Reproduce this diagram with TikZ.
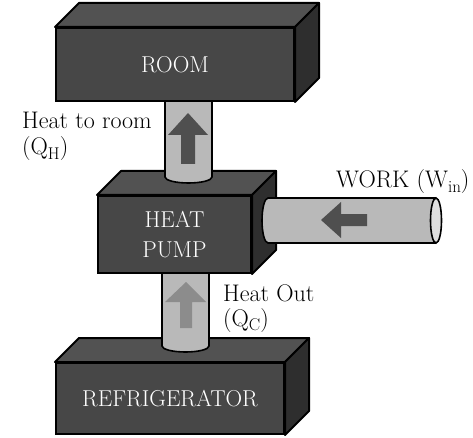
\documentclass[tikz,border=0pt]{standalone}
\usepackage{fontspec}
\usetikzlibrary{calc}
\definecolor{frontc}{HTML}{474747}
\definecolor{topc}{HTML}{525252}
\definecolor{sidec}{HTML}{2E2E2E}
\definecolor{pipec}{HTML}{B9B9B9}
\definecolor{pipeend}{HTML}{DEDEDE}
\definecolor{arrowdark}{HTML}{4F4F4F}
\definecolor{arrowlight}{HTML}{8C8C8C}
\newcommand\lowsub[1]{\raisebox{-0.45ex}{\fontsize{17}{17}\selectfont #1}}
\newcommand\depthbox[1]{%
  \draw[topface] (#1.north west) -- ++(24,-24) -- ($(#1.north east)+(24,-24)$) -- (#1.north east) -- cycle;
  \draw[sideface] (#1.north east) -- ++(24,-24) -- ($(#1.south east)+(24,-24)$) -- (#1.south east) -- cycle;}
\tikzset{
  front/.style={draw=black, line width=2pt, fill=frontc, text=white, inner sep=0pt,
    anchor=north west, font=\fontsize{23}{30}\selectfont, align=center},
  topface/.style={draw=black, line width=2pt, fill=topc, line join=round},
  sideface/.style={draw=black, line width=2pt, fill=sidec, line join=round},
  pipeline/.style={draw=black, line width=1.6pt},
  lbl/.style={font=\fontsize{24}{28}\selectfont, anchor=base west, inner sep=0pt, text=black},
}
\begin{document}
\begin{tikzpicture}[x=1pt,y=-1pt]
\useasboundingbox (0,0) rectangle (473,438);
\fill[white] (0,0) rectangle (473,438);

% refrigerator
\node[front, minimum width=228pt, minimum height=71pt] (fridge) at (55,362) {REFRIGERATOR};
\depthbox{fridge}

% bottom pipe (Q_C)
\fill[pipec] (162,268) -- (162,346) arc[start angle=180,end angle=360,x radius=23.5pt,y radius=6pt] -- (209,268) -- cycle;
\draw[pipeline] (162,268) -- (162,346) arc[start angle=180,end angle=360,x radius=23.5pt,y radius=6pt] -- (209,268);
\fill[arrowlight] (186,282) -- (206,302) -- (192,302) -- (192,328) -- (180,328) -- (180,302) -- (165,302) -- cycle;

% heat pump
\node[front, minimum width=153pt, minimum height=77pt] (pump) at (97,195) {HEAT\\PUMP};
\depthbox{pump}

% top pipe (Q_H)
\fill[pipec] (165,96) -- (165,177) arc[start angle=180,end angle=360,x radius=23.5pt,y radius=6pt] -- (212,96) -- cycle;
\draw[pipeline] (165,96) -- (165,177) arc[start angle=180,end angle=360,x radius=23.5pt,y radius=6pt] -- (212,96);
\fill[arrowdark] (188,113) -- (208,135) -- (195,135) -- (195,164) -- (181,164) -- (181,135) -- (168,135) -- cycle;

% room
\node[front, minimum width=238pt, minimum height=73pt] (room) at (55,27) {ROOM};
\depthbox{room}

% work pipe
\fill[pipec] (436,198) -- (268,198) arc[start angle=90,end angle=270,x radius=6pt,y radius=22.5pt] -- (436,243) -- cycle;
\draw[pipeline] (436,198) -- (268,198) arc[start angle=90,end angle=270,x radius=6pt,y radius=22.5pt] -- (436,243);
\draw[pipeline, fill=pipeend] (436,220.5) ellipse[x radius=5.5pt, y radius=22.5pt];
\fill[arrowdark] (321,220) -- (341,202) -- (341,214) -- (367,214) -- (367,226) -- (341,226) -- (341,238) -- cycle;

% labels
\node[lbl] (qhlab) at (22,129) {Heat to room};
\node[lbl] (qhsym) at (22,155) {(Q\lowsub{H})};
\node[lbl] (work) at (336,188) {WORK (W\lowsub{in})};
\node[lbl] (qclab) at (223,301) {Heat Out};
\node[lbl] (qcsym) at (223,326) {(Q\lowsub{C})};
\end{tikzpicture}
\end{document}
